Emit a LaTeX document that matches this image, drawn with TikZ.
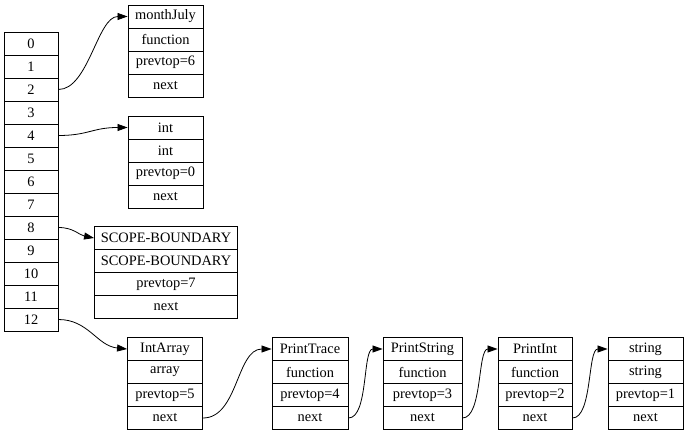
\documentclass[tikz,border=0pt]{standalone}
\usepackage{fontspec}
\setmainfont{Liberation Serif}
\usetikzlibrary{arrows.meta}
\begin{document}
\begin{tikzpicture}[x=1bp,y=-1bp,
  cell/.style={draw=black, line width=0.9bp, rectangle, inner sep=0pt, minimum height=23bp, font=\fontsize{14.4bp}{16bp}\selectfont},
  link/.style={draw=black, line width=0.8bp, -{Triangle[length=10bp,width=7bp]}}]
\useasboundingbox (0,0) rectangle (686,434);
% array
\foreach \i in {0,...,12} {
  \node[cell, minimum width=54bp] (a\i) at (31,{43.5+23*\i}) {\i};
}
% struct 1
\foreach \t [count=\j from 0] in {monthJuly,function,prevtop=6,next} {
  \node[cell, minimum width=75bp] (m\j) at (165.5,{16.5+23*\j}) {\t};
}
% struct 2
\foreach \t [count=\j from 0] in {int,int,prevtop=0,next} {
  \node[cell, minimum width=75bp] (n\j) at (165.5,{127.5+23*\j}) {\t};
}
% struct 3
\foreach \t [count=\j from 0] in {SCOPE-BOUNDARY,SCOPE-BOUNDARY,prevtop=7,next} {
  \node[cell, minimum width=143bp] (s\j) at (166,{238+23*\j}) {\t};
}
% bottom row
\foreach \t [count=\j from 0] in {IntArray,array,prevtop=5,next} {
  \node[cell, minimum width=75bp] (ia\j) at (165,{349+23*\j}) {\t};
}
\foreach \t [count=\j from 0] in {PrintTrace,function,prevtop=4,next} {
  \node[cell, minimum width=76bp] (pt\j) at (310,{349+23*\j}) {\t};
}
\foreach \t [count=\j from 0] in {PrintString,function,prevtop=3,next} {
  \node[cell, minimum width=79bp] (ps\j) at (422.5,{349+23*\j}) {\t};
}
\foreach \t [count=\j from 0] in {PrintInt,function,prevtop=2,next} {
  \node[cell, minimum width=74bp] (pi\j) at (535,{349+23*\j}) {\t};
}
\foreach \t [count=\j from 0] in {string,string,prevtop=1,next} {
  \node[cell, minimum width=75bp] (st\j) at (645.5,{349+23*\j}) {\t};
}
% connectors
\draw[link] (a2.east) .. controls +(30,0) and +(-30,0) .. (m0.west);
\draw[link] (a4.east) .. controls +(30,0) and +(-35,0) .. (n0.west);
\draw[link] (a8.east) .. controls +(15,0) and +(-15,-3) .. (s0.west);
\draw[link] (a12.east) .. controls +(30,0) and +(-30,-3) .. (ia0.west);
\draw[link] (ia3.east) .. controls +(35,0) and +(-35,0) .. (pt0.west);
\draw[link] (pt3.east) .. controls +(20,0) and +(-20,0) .. (ps0.west);
\draw[link] (ps3.east) .. controls +(20,0) and +(-20,0) .. (pi0.west);
\draw[link] (pi3.east) .. controls +(20,0) and +(-20,0) .. (st0.west);
\end{tikzpicture}
\end{document}
